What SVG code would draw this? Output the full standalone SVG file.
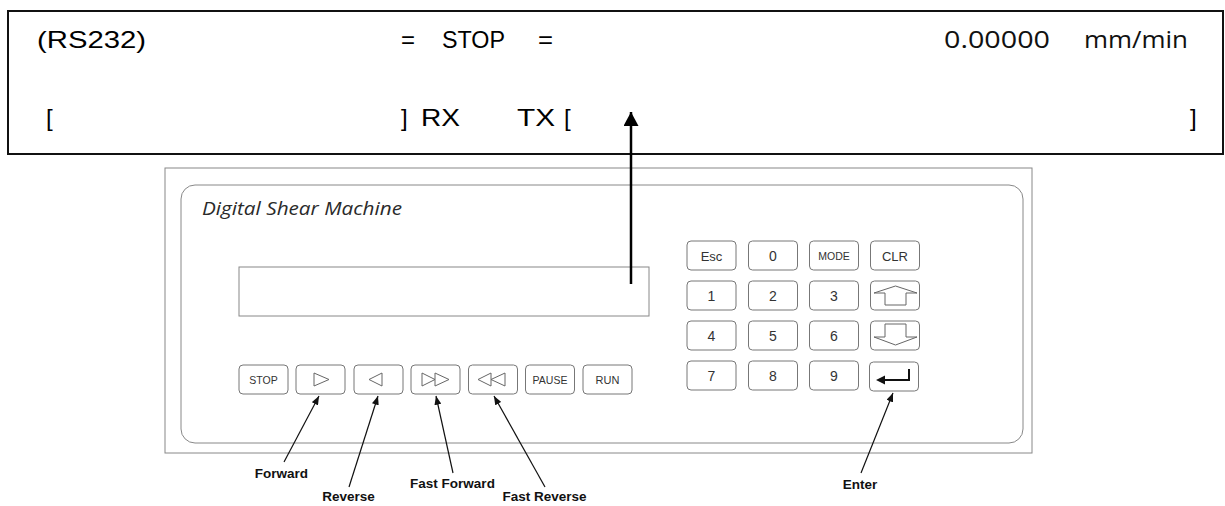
<svg xmlns="http://www.w3.org/2000/svg" width="1225" height="506" viewBox="0 0 1225 506">
  <style>
    .lcd { font-family: "Liberation Sans", Arial, sans-serif; font-size: 24px; fill: #000; }
    .lcd2 { font-family: "Open Sans", "Noto Sans", sans-serif; font-size: 24px; fill: #111; }
    .title { font-family: "Open Sans", "Noto Sans", sans-serif; font-style: italic; font-size: 19px; fill: #2a2a2a; }
    .key { fill: #fff; stroke: #777; stroke-width: 1; }
    .ktxt { font-family: "Liberation Sans", Arial, sans-serif; fill: #333; text-anchor: middle; }
    .sym { fill: none; stroke: #666; stroke-width: 1; }
    .lbl { font-family: "Liberation Sans", Arial, sans-serif; font-weight: bold; font-size: 13.5px; fill: #111; text-anchor: middle; }
    .pointer { stroke: #111; stroke-width: 1.2; fill: none; marker-end: url(#tip); }
    .panel { fill: #fff; stroke: #888; stroke-width: 1; }
  </style>
  <defs>
    <marker id="tip" viewBox="0 0 10 8" refX="10" refY="4" markerWidth="9" markerHeight="7" markerUnits="userSpaceOnUse" orient="auto">
      <path d="M0,0 L10,4 L0,8 Z" fill="#111"/>
    </marker>
    <marker id="bigtip" viewBox="0 0 14 15" refX="14" refY="7.5" markerWidth="14" markerHeight="15" markerUnits="userSpaceOnUse" orient="auto">
      <path d="M0,0 L14,7.5 L0,15 Z" fill="#000"/>
    </marker>
  </defs>

  <rect width="1225" height="506" fill="#fff"/>

  <!-- RS232 terminal readout -->
  <g id="terminal">
    <rect x="8" y="11" width="1215" height="143" fill="#fff" stroke="#111" stroke-width="2"/>
    <text class="lcd" x="37" y="48" textLength="109" lengthAdjust="spacingAndGlyphs">(RS232)</text>
    <text class="lcd" x="401" y="48" textLength="14" lengthAdjust="spacingAndGlyphs">=</text>
    <text class="lcd" x="442" y="48" textLength="63" lengthAdjust="spacingAndGlyphs">STOP</text>
    <text class="lcd" x="538" y="48" textLength="15" lengthAdjust="spacingAndGlyphs">=</text>
    <text class="lcd2" x="944" y="48" textLength="106" lengthAdjust="spacingAndGlyphs">0.00000</text>
    <text class="lcd2" x="1084" y="48" textLength="104" lengthAdjust="spacingAndGlyphs">mm/min</text>
    <text class="lcd" x="46" y="126">[</text>
    <text class="lcd" x="401" y="126">]</text>
    <text class="lcd" x="421" y="126" textLength="39" lengthAdjust="spacingAndGlyphs">RX</text>
    <text class="lcd" x="517" y="126" textLength="38" lengthAdjust="spacingAndGlyphs">TX</text>
    <text class="lcd" x="564" y="126">[</text>
    <text class="lcd" x="1190" y="126">]</text>
  </g>

  <!-- Machine front panel -->
  <g id="panel">
    <rect class="panel" x="165" y="168" width="867" height="285"/>
    <rect class="panel" x="181" y="185" width="842" height="258" rx="14"/>
    <text class="title" x="202" y="215" textLength="200" lengthAdjust="spacingAndGlyphs">Digital Shear Machine</text>
  </g>

  <g id="display">
    <rect x="239" y="267" width="410" height="49" fill="#fff" stroke="#888" stroke-width="1"/>
  </g>

  <!-- Transport buttons -->
  <g id="btn-stop">
    <rect class="key" x="239" y="365" width="49" height="29" rx="4"/>
    <text class="ktxt" x="263.5" y="383.5" font-size="10.5">STOP</text>
  </g>
  <g id="btn-forward">
    <rect class="key" x="296" y="365" width="49" height="29" rx="4"/>
    <path class="sym" d="M314,373 L329,379.5 L314,386 Z"/>
  </g>
  <g id="btn-reverse">
    <rect class="key" x="354" y="365" width="49" height="29" rx="4"/>
    <path class="sym" d="M382,373 L369,379.5 L382,386 Z"/>
  </g>
  <g id="btn-fast-forward">
    <rect class="key" x="411" y="365" width="49" height="29" rx="4"/>
    <path class="sym" d="M422,373 L435,379.5 L422,386 Z M435,373 L449,379.5 L435,386 Z"/>
  </g>
  <g id="btn-fast-reverse">
    <rect class="key" x="468.5" y="365" width="49" height="29" rx="4"/>
    <path class="sym" d="M491,373 L478,379.5 L491,386 Z M505,373 L491,379.5 L505,386 Z"/>
  </g>
  <g id="btn-pause">
    <rect class="key" x="525.5" y="365" width="49" height="29" rx="4"/>
    <text class="ktxt" x="550" y="383.5" font-size="10.5">PAUSE</text>
  </g>
  <g id="btn-run">
    <rect class="key" x="583" y="365" width="49" height="29" rx="4"/>
    <text class="ktxt" x="607.5" y="383.5" font-size="11">RUN</text>
  </g>

  <!-- Keypad -->
  <g id="key-esc">
    <rect class="key" x="687" y="241" width="49" height="29" rx="4"/>
    <text class="ktxt" x="711.5" y="260.5" font-size="13">Esc</text>
  </g>
  <g id="key-0">
    <rect class="key" x="748.5" y="241" width="49" height="29" rx="4"/>
    <text class="ktxt" x="773" y="260.5" font-size="14">0</text>
  </g>
  <g id="key-mode">
    <rect class="key" x="809.5" y="241" width="49" height="29" rx="4"/>
    <text class="ktxt" x="834" y="259.5" font-size="10.5">MODE</text>
  </g>
  <g id="key-clr">
    <rect class="key" x="870.5" y="241" width="49" height="29" rx="4"/>
    <text class="ktxt" x="895" y="260.5" font-size="13">CLR</text>
  </g>
  <g id="key-1">
    <rect class="key" x="687" y="281" width="49" height="29" rx="4"/>
    <text class="ktxt" x="711.5" y="300.5" font-size="14">1</text>
  </g>
  <g id="key-2">
    <rect class="key" x="748.5" y="281" width="49" height="29" rx="4"/>
    <text class="ktxt" x="773" y="300.5" font-size="14">2</text>
  </g>
  <g id="key-3">
    <rect class="key" x="809.5" y="281" width="49" height="29" rx="4"/>
    <text class="ktxt" x="834" y="300.5" font-size="14">3</text>
  </g>
  <g id="key-up">
    <rect class="key" x="870.5" y="281" width="49" height="29" rx="4"/>
    <path class="sym" d="M874,293 L895.5,286 L917,293 L906,293 L906,305 L885,305 L885,293 Z"/>
  </g>
  <g id="key-4">
    <rect class="key" x="687" y="321" width="49" height="29" rx="4"/>
    <text class="ktxt" x="711.5" y="340.5" font-size="14">4</text>
  </g>
  <g id="key-5">
    <rect class="key" x="748.5" y="321" width="49" height="29" rx="4"/>
    <text class="ktxt" x="773" y="340.5" font-size="14">5</text>
  </g>
  <g id="key-6">
    <rect class="key" x="809.5" y="321" width="49" height="29" rx="4"/>
    <text class="ktxt" x="834" y="340.5" font-size="14">6</text>
  </g>
  <g id="key-down">
    <rect class="key" x="870.5" y="321" width="49" height="29" rx="4"/>
    <path class="sym" d="M885,324 L906,324 L906,337 L917,337 L895.5,345 L874,337 L885,337 Z"/>
  </g>
  <g id="key-7">
    <rect class="key" x="687" y="361" width="49" height="29" rx="4"/>
    <text class="ktxt" x="711.5" y="380.5" font-size="14">7</text>
  </g>
  <g id="key-8">
    <rect class="key" x="748.5" y="361" width="49" height="29" rx="4"/>
    <text class="ktxt" x="773" y="380.5" font-size="14">8</text>
  </g>
  <g id="key-9">
    <rect class="key" x="809.5" y="361" width="49" height="29" rx="4"/>
    <text class="ktxt" x="834" y="380.5" font-size="14">9</text>
  </g>
  <g id="key-enter">
    <rect class="key" x="869.5" y="362" width="49" height="29" rx="4"/>
    <path d="M909,369 L909,380 L884,380" fill="none" stroke="#111" stroke-width="2"/>
    <path d="M876,380 L885,375.5 L885,384.5 Z" fill="#111"/>
  </g>

  <!-- Callout labels -->
  <g id="labels">
    <text class="lbl" x="281.5" y="478">Forward</text>
    <text class="lbl" x="348.5" y="501">Reverse</text>
    <text class="lbl" x="452.5" y="488">Fast Forward</text>
    <text class="lbl" x="544.5" y="501">Fast Reverse</text>
    <text class="lbl" x="860" y="489">Enter</text>
  </g>

  <!-- Connectors -->
  <g id="connectors">
    <line x1="631" y1="284" x2="631" y2="112" stroke="#000" stroke-width="2.5" marker-end="url(#bigtip)"/>
    <line class="pointer" x1="284" y1="462" x2="319" y2="396"/>
    <line class="pointer" x1="349" y1="487" x2="378" y2="396"/>
    <line class="pointer" x1="453" y1="473" x2="436" y2="396"/>
    <line class="pointer" x1="545" y1="487" x2="494" y2="396"/>
    <line class="pointer" x1="861" y1="473" x2="893" y2="393"/>
  </g>
</svg>
